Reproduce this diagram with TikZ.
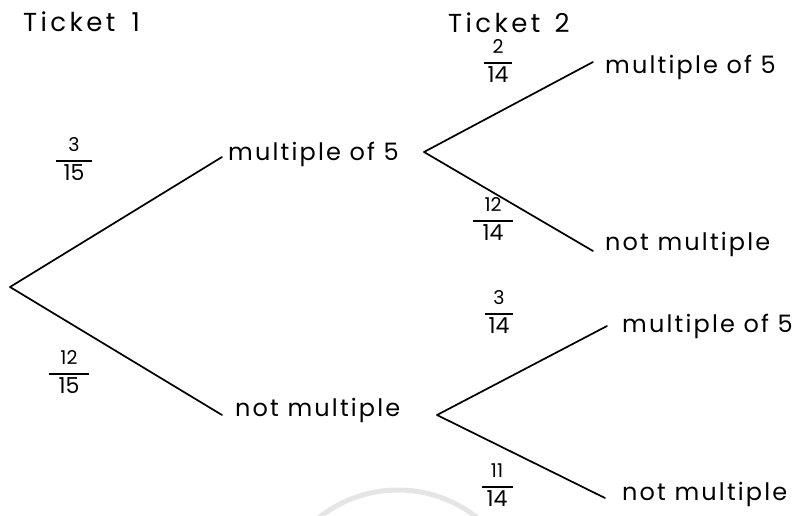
\documentclass[tikz,border=0pt]{standalone}
\usepackage{fontspec}
\setmainfont{Poppins}
\newcommand\prob[3]{\begin{tabular}{@{}c@{}}{\fontsize{19}{19}\selectfont #2}\\[-2pt]\rule{#1pt}{1.8pt}\\[-1pt]{\fontsize{22}{22}\selectfont #3}\end{tabular}}
\begin{document}
\begin{tikzpicture}[x=1pt,y=-1pt,
  branch/.style={line width=1.7pt,line cap=round},
  lbl/.style={font=\fontsize{24}{26}\selectfont\addfontfeatures{LetterSpace=9},anchor=base west,inner sep=0pt},
  head/.style={font=\fontsize{26}{28}\selectfont\addfontfeatures{LetterSpace=13},anchor=base west,inner sep=0pt},
  pr/.style={inner sep=0pt}]
\useasboundingbox (0,0) rectangle (796,515);
% faint watermark ring
\begin{scope}
\clip (0,0) rectangle (796,515);
\draw[line width=5pt,gray!20] (398,617) circle (127);
\end{scope}
% headings
\node[head] (t1) at (23,31) {Ticket \hspace{6pt}1};
\node[head] (t2) at (448,32) {Ticket \hspace{4pt}2};
% branch points
\coordinate (root) at (10,287);
\coordinate (a) at (424,152);
\coordinate (b) at (437,415);
% branch ends
\coordinate (ea) at (222,157);
\coordinate (eb) at (222,415);
\coordinate (eaa) at (593,62);
\coordinate (eab) at (593,251);
\coordinate (eba) at (607,326);
\coordinate (ebb) at (605,498);
% labels
\node[lbl] (la) at (228,160) {multiple of 5};
\node[lbl] (lb) at (235,416) {not multiple};
\node[lbl] (laa) at (605,73) {multiple of 5};
\node[lbl] (lab) at (605,250) {not multiple};
\node[lbl] (lba) at (622,332) {multiple of 5};
\node[lbl] (lbb) at (622,500) {not multiple};
% branches
\draw[branch] (root) -- (ea);
\draw[branch] (root) -- (eb);
\draw[branch] (a) -- (eaa);
\draw[branch] (a) -- (eab);
\draw[branch] (b) -- (eba);
\draw[branch] (b) -- (ebb);
% probabilities
\node[pr] (p1) at (74,161) {\prob{36}{3}{15}};
\node[pr] (p2) at (69,374) {\prob{40}{12}{15}};
\node[pr] (p3) at (498,63) {\prob{28}{2}{14}};
\node[pr] (p4) at (493,221) {\prob{40}{12}{14}};
\node[pr] (p5) at (499,314) {\prob{28}{3}{14}};
\node[pr] (p6) at (497,487) {\prob{31}{11}{14}};
\end{tikzpicture}
\end{document}
